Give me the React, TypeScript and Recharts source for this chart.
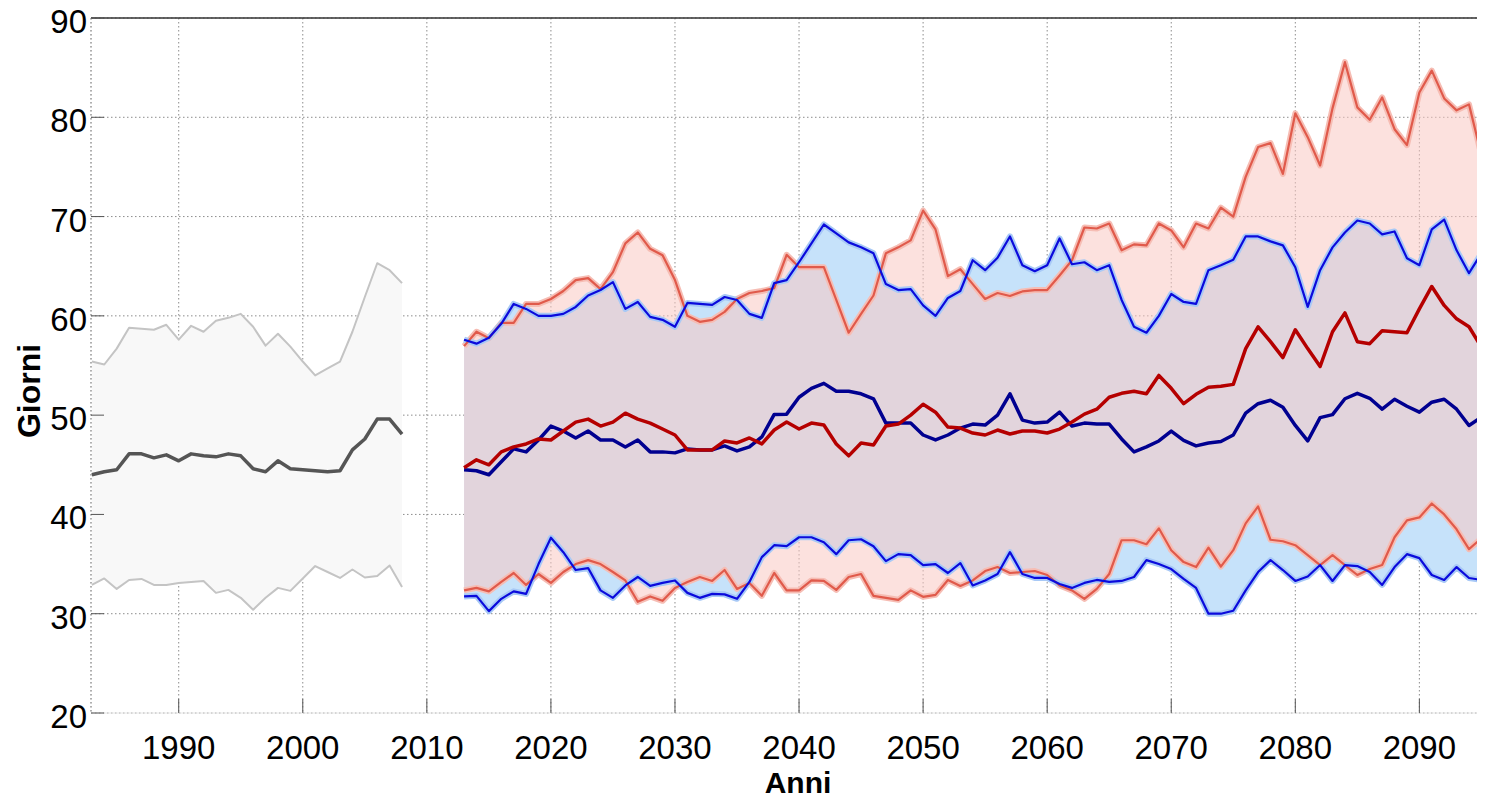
import React from 'react';
import {
  ComposedChart,
  Area,
  Line,
  XAxis,
  YAxis,
  CartesianGrid,
  ReferenceLine,
  Label,
} from 'recharts';

// ---------- categories ----------
const OBS_START = 1983;
const PROJ_START = 2013;

// ---------- observed (1983–2008) ----------
const obsUpper = [55.4, 55.1, 56.7, 58.8, 58.7, 58.6, 59.1, 57.6, 59.0, 58.4, 59.5, 59.8, 60.2, 58.9, 57.0, 58.2, 56.9, 55.4, 54.0, 54.7, 55.4, 58.4, 61.9, 65.3, 64.6, 63.3];
const obsMedian = [44.0, 44.3, 44.5, 46.1, 46.1, 45.7, 46.0, 45.4, 46.1, 45.9, 45.8, 46.1, 45.9, 44.6, 44.3, 45.4, 44.6, 44.5, 44.4, 44.3, 44.4, 46.5, 47.6, 49.6, 49.6, 48.1];
const obsLower = [32.9, 33.55, 32.5, 33.4, 33.5, 32.9, 32.9, 33.1, 33.2, 33.3, 32.1, 32.4, 31.6, 30.4, 31.6, 32.6, 32.3, 33.55, 34.8, 34.2, 33.6, 34.45, 33.65, 33.8, 34.86, 32.7];

// ---------- projections (2013–2095) ----------
const redUpper = [
  56.95, 58.4, 57.75, 59.3, 59.3, 61.2, 61.2, 61.7, 62.5, 63.6,
  63.8, 62.7, 64.4, 67.3, 68.4, 66.75, 66.1, 63.6, 60.0, 59.4,
  59.6, 60.4, 61.7, 62.3, 62.5, 62.8, 66.15, 64.9, 64.9, 64.9,
  61.6, 58.3, 60.2, 62.05, 66.3, 66.9, 67.6, 70.6, 68.7, 64.0,
  64.7, 63.2, 61.7, 62.3, 62.0, 62.46, 62.6, 62.6, 64.07, 65.6,
  68.9, 68.8, 69.3, 66.6, 67.2, 67.1, 69.3, 68.6, 66.9, 69.3,
  68.8, 70.9, 70.0, 74.0, 77.0, 77.4, 74.3, 80.4, 78.0, 75.15,
  80.9, 85.55, 81.0, 79.75, 82.0, 78.8, 77.2, 82.5, 84.7, 81.9,
  80.7, 81.3, 76.2,
];
const blueUpper = [
  57.6, 57.2, 57.8, 59.2, 61.2, 60.7, 60.0, 60.0, 60.2, 60.9,
  62.05, 62.6, 63.4, 60.7, 61.4, 59.9, 59.6, 58.9, 61.3, 61.2,
  61.1, 61.9, 61.6, 60.2, 59.8, 63.3, 63.6, 65.4, 67.3, 69.2,
  68.3, 67.4, 66.9, 66.3, 63.2, 62.6, 62.7, 61.05, 60.0, 61.8,
  62.5, 65.6, 64.6, 65.85, 68.0, 65.1, 64.5, 65.1, 67.8, 65.2,
  65.4, 64.6, 65.1, 61.6, 58.9, 58.3, 60.0, 62.2, 61.4, 61.2,
  64.6, 65.1, 65.65, 68.0, 68.0, 67.5, 67.1, 64.9, 60.9, 64.6,
  66.9, 68.4, 69.6, 69.3, 68.2, 68.5, 65.8, 65.1, 68.7, 69.7,
  66.6, 64.3, 66.3,
];
const redMedian = [
  44.7, 45.5, 45.0, 46.3, 46.8, 47.1, 47.6, 47.5, 48.4, 49.3,
  49.6, 48.9, 49.3, 50.2, 49.6, 49.2, 48.6, 48.0, 46.5, 46.5,
  46.5, 47.4, 47.2, 47.7, 47.1, 48.5, 49.3, 48.6, 49.2, 49.0,
  47.1, 45.9, 47.2, 47.0, 48.9, 49.1, 50.0, 51.1, 50.3, 48.8,
  48.7, 48.2, 48.0, 48.5, 48.1, 48.4, 48.4, 48.2, 48.6, 49.3,
  50.1, 50.6, 51.8, 52.2, 52.4, 52.15, 54.0, 52.7, 51.15, 52.1,
  52.8, 52.9, 53.1, 56.7, 58.9, 57.4, 55.8, 58.6, 56.7, 54.9,
  58.4, 60.3, 57.4, 57.2, 58.5, 58.4, 58.3, 60.7, 62.96, 61.05,
  59.7, 58.9, 56.85,
];
const blueMedian = [
  44.5, 44.4, 44.0, 45.3, 46.6, 46.3, 47.5, 48.9, 48.4, 47.7,
  48.4, 47.5, 47.5, 46.8, 47.5, 46.3, 46.3, 46.2, 46.6, 46.5,
  46.5, 46.9, 46.4, 46.8, 47.8, 50.07, 50.1, 51.8, 52.7, 53.2,
  52.4, 52.4, 52.15, 51.65, 49.2, 49.2, 49.2, 48.0, 47.5, 48.0,
  48.7, 49.1, 49.0, 50.0, 52.15, 49.5, 49.2, 49.3, 50.3, 48.9,
  49.2, 49.1, 49.1, 47.6, 46.3, 46.8, 47.4, 48.4, 47.45, 46.9,
  47.2, 47.35, 48.0, 50.2, 51.15, 51.5, 50.8, 48.96, 47.4, 49.75,
  50.05, 51.65, 52.2, 51.7, 50.6, 51.6, 50.9, 50.3, 51.3, 51.6,
  50.6, 48.96, 49.8,
];
const redLower = [
  32.35, 32.6, 32.25, 33.2, 34.1, 32.9, 34.0, 33.1, 34.2, 35.0,
  35.4, 35.0, 34.2, 33.35, 31.2, 31.74, 31.3, 32.6, 33.2, 33.7,
  33.3, 34.4, 32.5, 33.1, 31.8, 34.1, 32.35, 32.35, 33.35, 33.3,
  32.4, 33.7, 34.0, 31.8, 31.6, 31.4, 32.35, 31.7, 31.9, 33.4,
  32.8, 33.35, 34.3, 34.7, 34.1, 34.2, 34.3, 33.9, 32.85, 32.35,
  31.5, 32.5, 34.0, 37.4, 37.4, 37.0, 38.6, 36.4, 35.2, 34.7,
  36.65, 34.75, 36.4, 39.1, 40.8, 37.45, 37.3, 36.9, 35.9, 34.9,
  35.9, 34.9, 33.9, 34.5, 34.9, 37.7, 39.4, 39.7, 41.1, 40.0,
  38.5, 36.5, 37.6,
];
const blueLower = [
  31.74, 31.8, 30.26, 31.5, 32.25, 32.0, 35.0, 37.65, 36.2, 34.4,
  34.6, 32.35, 31.6, 32.85, 33.7, 32.8, 33.1, 33.35, 32.1, 31.6,
  32.0, 31.95, 31.5, 33.2, 35.7, 36.9, 36.8, 37.7, 37.7, 37.2,
  36.0, 37.4, 37.5, 36.8, 35.3, 36.0, 35.9, 34.9, 35.0, 34.1,
  35.1, 32.85, 33.35, 34.0, 36.2, 34.0, 33.6, 33.6, 33.0, 32.6,
  33.1, 33.4, 33.2, 33.3, 33.7, 35.4, 35.0, 34.5, 33.5, 32.6,
  30.0, 30.0, 30.3, 32.35, 34.2, 35.4, 34.4, 33.3, 33.75, 34.9,
  33.3, 34.9, 34.8, 34.2, 32.9, 34.7, 36.0, 35.6, 33.9, 33.4,
  34.7, 33.6, 33.4,
];

// ---------- ticks ----------
const xTicks = [1990, 2000, 2010, 2020, 2030, 2040, 2050, 2060, 2070, 2080, 2090];
const yTicks = [20, 30, 40, 50, 60, 70, 80, 90];

// ---------- table for the library ----------
const obsYears = obsUpper.map((_, i) => OBS_START + i);
const projYears = redUpper.map((_, i) => PROJ_START + i);

const rows: any[] = [];
obsYears.forEach((year, i) => {
  rows.push({
    year,
    obsBand: [obsLower[i], obsUpper[i]],
    obsUpper: obsUpper[i],
    obsMedian: obsMedian[i],
    obsLower: obsLower[i],
  });
});
projYears.forEach((year, i) => {
  rows.push({
    year,
    blueBand: [blueLower[i], blueUpper[i]],
    redBand: [redLower[i], redUpper[i]],
    redUpper: redUpper[i],
    blueUpper: blueUpper[i],
    redMedian: redMedian[i],
    blueMedian: blueMedian[i],
    redLower: redLower[i],
    blueLower: blueLower[i],
  });
});

// ---------- layout ----------
const W = 1477;
const H = 792;
const PLOT_LEFT = 83;
const PLOT_TOP = 10;
const X_AXIS_H = 87;
const PLOT_BOTTOM = H - X_AXIS_H;
const FONT = '"Liberation Sans", Arial, Helvetica, sans-serif';
const TICK_FS = 33;

const C = {
  obsFill: '#f8f8f8',
  obsLine: '#c4c4c4',
  obsMed: '#555555',
  blueFill: 'rgb(198,226,250)',
  redFill: 'rgb(249,200,195)',
  blueLine: '#0b0bdc',
  redLine: '#e05a4b',
  blueHalo: '#a8c9f6',
  redHalo: '#f6bdb4',
  blueMed: '#000090',
  redMed: '#b50000',
};

const YTick = (props: any) => {
  const { y, payload } = props;
  return (
    <g>
      <line x1={PLOT_LEFT} x2={PLOT_LEFT + 13} y1={y} y2={y} stroke="#555" strokeWidth={1} />
      <text
        x={PLOT_LEFT - 4}
        y={y + 15}
        textAnchor="end"
        fontSize={TICK_FS}
        fontFamily={FONT}
        fill="#000"
      >
        {payload.value}
      </text>
    </g>
  );
};

const XTick = (props: any) => {
  const { x, payload } = props;
  return (
    <g>
      <line x1={x} x2={x} y1={PLOT_BOTTOM} y2={PLOT_BOTTOM - 14} stroke="#555" strokeWidth={1} />
      <text
        x={x}
        y={PLOT_BOTTOM + 46}
        textAnchor="middle"
        fontSize={TICK_FS}
        fontFamily={FONT}
        fill="#000"
      >
        {payload.value}
      </text>
    </g>
  );
};

const thin = (key: string, color: string, width: number) => (
  <Line
    key={key + color + width}
    dataKey={key}
    type="linear"
    stroke={color}
    strokeWidth={width}
    dot={false}
    activeDot={false}
    isAnimationActive={false}
    strokeLinejoin="round"
  />
);

export default function App() {
  return (
    <div style={{ width: W, height: H, overflow: 'visible', background: '#fff' }}>
      <style>{`.recharts-wrapper, .recharts-surface { overflow: visible !important; }`}</style>
      <ComposedChart
        width={W}
        height={H}
        data={rows}
        margin={{ top: PLOT_TOP, right: 0, bottom: 0, left: 0 }}
      >
        <CartesianGrid stroke="#8c8c8c" strokeDasharray="1.5 2.5" strokeWidth={1} />
        <XAxis
          dataKey="year"
          type="number"
          domain={[1982.93, 2095.29]}
          ticks={xTicks}
          allowDataOverflow
          height={X_AXIS_H}
          axisLine={{ stroke: '#e6e6e6' }}
          tickLine={false}
          tick={<XTick />}
          interval={0}
        >
          <Label
            content={() => (
              <text
                x={798 - 8}
                y={793 - 8}
                textAnchor="middle"
                fontSize={30}
                fontWeight="bold"
                fontFamily={FONT}
                fill="#000"
              >
                Anni
              </text>
            )}
          />
        </XAxis>
        <YAxis
          type="number"
          domain={[20, 90]}
          ticks={yTicks}
          width={PLOT_LEFT}
          axisLine={{ stroke: '#9a9a9a', strokeDasharray: '1.5 2.5' }}
          tickLine={false}
          tick={<YTick />}
          interval={0}
          allowDataOverflow
        >
          <Label
            content={() => (
              <text
                x={40 - 8}
                y={391 - 8}
                transform={`rotate(-90 ${40 - 8} ${391 - 8})`}
                textAnchor="middle"
                fontSize={32}
                fontWeight="bold"
                fontFamily={FONT}
                fill="#000"
              >
                Giorni
              </text>
            )}
          />
        </YAxis>

        <ReferenceLine y={90} stroke="#333" strokeWidth={1.5} ifOverflow="extendDomain" />

        {/* observed band */}
        <Area
          dataKey="obsBand"
          type="linear"
          stroke="none"
          fill={C.obsFill}
          fillOpacity={1}
          isAnimationActive={false}
          activeDot={false}
        />
        {thin('obsUpper', C.obsLine, 2)}
        {thin('obsLower', C.obsLine, 2)}
        {thin('obsMedian', C.obsMed, 3.5)}

        {/* projection bands */}
        <Area
          dataKey="blueBand"
          type="linear"
          stroke="none"
          fill={C.blueFill}
          fillOpacity={1}
          isAnimationActive={false}
          activeDot={false}
        />
        <Area
          dataKey="redBand"
          type="linear"
          stroke="none"
          fill={C.redFill}
          fillOpacity={0.55}
          isAnimationActive={false}
          activeDot={false}
        />

        {/* halos */}
        {thin('redUpper', C.redHalo, 6)}
        {thin('redLower', C.redHalo, 6)}
        {thin('blueUpper', C.blueHalo, 6)}
        {thin('blueLower', C.blueHalo, 6)}

        {/* envelope lines */}
        {thin('redUpper', C.redLine, 2.2)}
        {thin('redLower', C.redLine, 2.2)}
        {thin('blueUpper', C.blueLine, 2.2)}
        {thin('blueLower', C.blueLine, 2.2)}

        {/* medians */}
        {thin('blueMedian', C.blueMed, 3.5)}
        {thin('redMedian', C.redMed, 3.5)}
      </ComposedChart>
    </div>
  );
}
